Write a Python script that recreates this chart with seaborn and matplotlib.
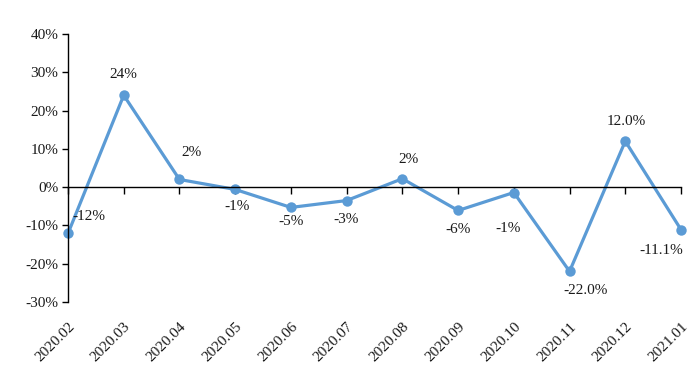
import numpy as np
import pandas as pd
import seaborn as sns
import matplotlib.pyplot as plt
from matplotlib.ticker import FuncFormatter

# data
months = ["2020.02", "2020.03", "2020.04", "2020.05", "2020.06", "2020.07",
          "2020.08", "2020.09", "2020.10", "2020.11", "2020.12", "2021.01"]
growth = [-12.1, 24.0, 2.0, -0.6, -5.3, -3.5, 2.2, -6.1, -1.4, -22.0, 12.0, -11.1]
labels = ["-12%", "24%", "2%", "-1%", "-5%", "-3%", "2%", "-6%", "-1%",
          "-22.0%", "12.0%", "-11.1%"]

# label offsets in pixels (dx, dy)
offsets = [(21, 17), (0, 21), (12, 27), (2, -17), (0, -14), (-1, -19),
           (6, 19), (0, -19), (-6, -36), (16, -19), (1, 20), (-20, -21)]

sns.set_theme(style="white")
plt.rcParams["font.family"] = ["Liberation Serif", "DejaVu Serif"]

df = pd.DataFrame({"x": np.arange(len(months)), "y": growth})

fig = plt.figure(figsize=(7, 3.76), dpi=100)
ax = fig.add_axes([68 / 700, 1 - 302 / 376, (681 - 68) / 700, (302 - 34) / 376])

color = "#5B9BD5"
sns.lineplot(data=df, x="x", y="y", ax=ax, color=color, linewidth=2.3,
             marker="o", markersize=7.5, markeredgewidth=0, clip_on=False)

for i, (lab, (dx, dy)) in enumerate(zip(labels, offsets)):
    ax.annotate(lab, (i, growth[i]), xytext=(dx * 0.72, dy * 0.72),
                textcoords="offset points", ha="center", va="center",
                fontsize=11, color="#1a1a1a")

ax.set_xlim(0, len(months) - 1)
ax.set_ylim(-30, 40)
ax.set_yticks(range(-30, 41, 10))
ax.yaxis.set_major_formatter(FuncFormatter(lambda v, p: f"{v:.0f}%"))
ax.tick_params(axis="y", left=True, length=4, width=1, color="black",
               labelsize=11, labelcolor="#1a1a1a", pad=3)

for s in ["top", "right"]:
    ax.spines[s].set_visible(False)
ax.spines["left"].set_color("black")
ax.spines["left"].set_linewidth(1)
ax.spines["bottom"].set_position(("data", 0))
ax.spines["bottom"].set_color("black")
ax.spines["bottom"].set_linewidth(1)
ax.set_xticks(range(len(months)))
ax.tick_params(axis="x", bottom=True, length=5, width=1, color="black",
               labelbottom=False)
ax.set_xlabel("")
ax.set_ylabel("")

sec = ax.secondary_xaxis("bottom")
sec.set_xticks(range(len(months)))
sec.set_xticklabels(months, rotation=45, ha="right", rotation_mode="anchor",
                    fontsize=11, color="#1a1a1a")
sec.tick_params(length=0, pad=13)
sec.spines["bottom"].set_visible(False)

fig.savefig("out.png", dpi=100)
